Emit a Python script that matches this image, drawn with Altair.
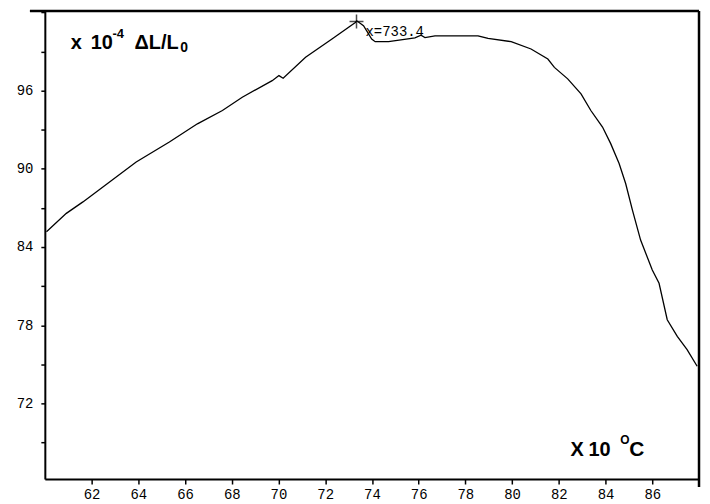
import altair as alt
import pandas as pd

# Curve (x in units of 10 °C, y in units of 1e-4 dL/L0)
temp = [60.07, 60.92, 61.63, 62.77, 63.91, 65.33, 66.53, 67.60, 68.45, 69.73,
        70.02, 70.20, 71.16, 72.29, 73.29, 73.35, 73.64, 73.99, 74.14, 74.71,
        75.84, 76.10, 76.27, 76.70, 78.54, 78.97, 79.96, 80.81, 81.53, 81.81,
        82.38, 82.95, 83.37, 83.87, 84.22, 84.58, 84.86, 85.15, 85.50, 86.00,
        86.29, 86.64, 87.07, 87.49, 87.92]
dl = [85.17, 86.58, 87.46, 88.99, 90.52, 92.05, 93.45, 94.47, 95.49, 96.76,
      97.15, 96.95, 98.55, 99.95, 101.22, 101.35, 100.97, 99.95, 99.75, 99.75,
      100.04, 100.25, 100.07, 100.20, 100.20, 100.00, 99.75, 99.19, 98.42, 97.78,
      96.90, 95.75, 94.47, 93.20, 91.93, 90.40, 88.87, 86.83, 84.53, 82.24,
      81.22, 78.42, 77.14, 76.13, 74.85]

peak_x = [73.34]
peak_y = [101.3]
peak_label = ["x=733.4"]

x_ticks = [62, 64, 66, 68, 70, 72, 74, 76, 78, 80, 82, 84, 86]
y_ticks = [69, 72, 75, 78, 81, 84, 87, 90, 93, 96, 99, 102]

W, H = 657, 470

df = pd.DataFrame({"t": temp, "d": dl})
pk = pd.DataFrame({"t": peak_x, "d": peak_y, "lab": peak_label})
dummy = pd.DataFrame({"a": [0]})

xs = alt.Scale(domain=[60, 88], nice=False, zero=False)
ys = alt.Scale(domain=[66.2, 102.1], nice=False, zero=False)

xaxis = alt.Axis(values=x_ticks, title=None, grid=False, domainColor="black",
                 domainWidth=2, tickColor="black", tickSize=5, tickWidth=1.5,
                 labelFont="Liberation Mono", labelFontSize=14, labelColor="black",
                 labelPadding=4)
yaxis = alt.Axis(values=y_ticks, title=None, grid=False, domainColor="black",
                 domainWidth=2, tickColor="black", tickSize=4, tickWidth=1.5,
                 labelExpr="(datum.value % 6 == 0 && datum.value < 100) ? datum.label : ''",
                 labelFont="Liberation Mono", labelFontSize=14, labelColor="black",
                 labelPadding=8)

line = alt.Chart(df).mark_line(color="black", strokeWidth=1.3).encode(
    x=alt.X("t:Q", scale=xs, axis=xaxis),
    y=alt.Y("d:Q", scale=ys, axis=yaxis),
)

cross = alt.Chart(pk).mark_point(shape="M-1,0L1,0M0,-1L0,1", size=196,
                                 color="black", strokeWidth=1.5, filled=False).encode(
    x=alt.X("t:Q", scale=xs), y=alt.Y("d:Q", scale=ys))

ann = alt.Chart(pk).mark_text(align="left", baseline="alphabetic", dx=9, dy=15,
                              font="Liberation Mono", fontSize=14, color="black").encode(
    x=alt.X("t:Q", scale=xs), y=alt.Y("d:Q", scale=ys), text="lab:N")

def txt(s, x, y, size, bold=True):
    return alt.Chart(dummy).mark_text(align="left", baseline="alphabetic",
                                      font="Liberation Sans", fontSize=size,
                                      fontWeight="bold" if bold else "normal",
                                      color="black").encode(
        x=alt.value(x), y=alt.value(y), text=alt.value(s))

titles = [
    txt("x", 26, 38, 20),
    txt("10", 46, 38, 20),
    txt("-4", 68, 27, 13),
    txt("ΔL/L", 90, 38, 20),
    txt("0", 136, 41, 14),
    txt("X", 528, 447, 20),
    txt("10", 546, 447, 20),
    txt("O", 578, 435, 12),
    txt("C", 587, 447, 21),
]

top_line = alt.Chart(dummy).mark_rule(color="black", strokeWidth=2.5, clip=False).encode(
    x=alt.value(-15), x2=alt.value(W), y=alt.value(0))
right_line = alt.Chart(dummy).mark_rule(color="black", strokeWidth=2.5, clip=False).encode(
    x=alt.value(W), y=alt.value(0), y2=alt.value(H + 8))

chart = alt.layer(line, cross, ann, *titles, top_line, right_line).properties(
    width=W, height=H,
    autosize=alt.AutoSizeParams(type="none"),
    padding={"left": 37, "top": 2, "right": 3, "bottom": 22},
).configure_view(stroke=None).configure(background="white")

chart.save("out.html", embed_options={"renderer": "svg", "actions": False})
